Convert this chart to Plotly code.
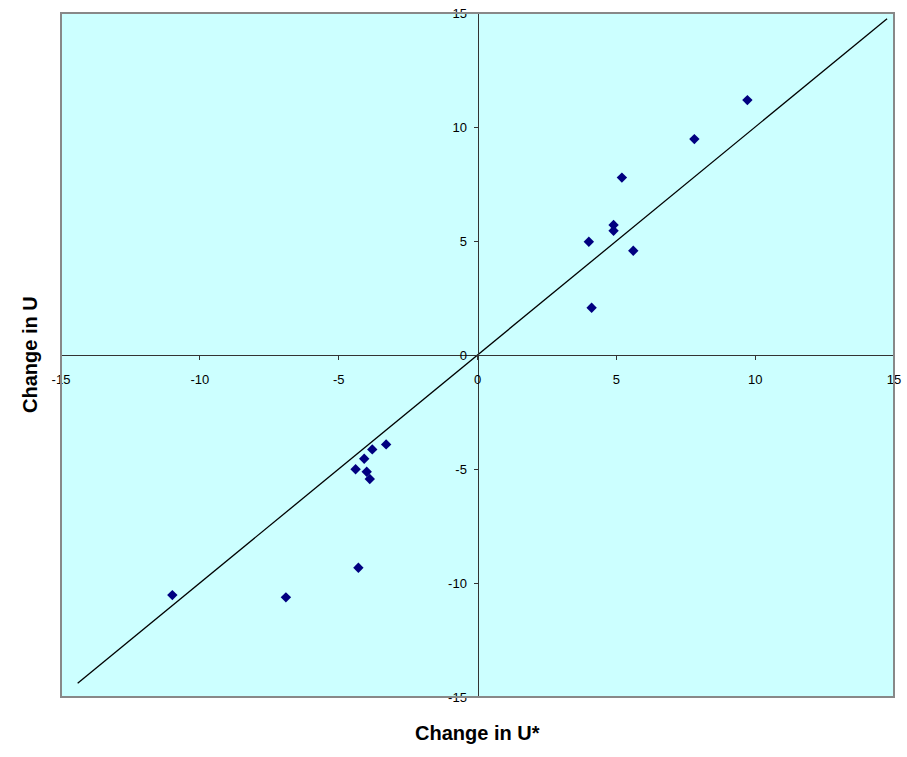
import plotly.graph_objects as go

# Data
change_u_star = [9.72, 7.81, 5.20, 4.90, 4.90, 4.01, 5.61, 4.11,
                 -10.99, -6.90, -4.29, -3.29, -3.79, -4.08, -4.39, -3.99, -3.88]
change_u = [11.18, 9.47, 7.78, 5.70, 5.45, 4.97, 4.57, 2.07,
            -10.53, -10.63, -9.33, -3.92, -4.14, -4.55, -5.01, -5.12, -5.44]
line_x = [-14.4, 14.75]
line_y = [-14.4, 14.75]
tick_vals = [-15, -10, -5, 0, 5, 10, 15]
tick_text = ["-15", "-10", "-5", "0", "5", "10", "15"]

fig = go.Figure()
fig.add_trace(go.Scatter(x=line_x, y=line_y, mode="lines",
                         line=dict(color="black", width=1.3), showlegend=False,
                         hoverinfo="skip"))
fig.add_trace(go.Scatter(x=change_u_star, y=change_u, mode="markers",
                         marker=dict(symbol="diamond", size=8, color="#000080"),
                         showlegend=False))

W, H = 907, 757
L, T, R, B = 61, 13, 13, 60
pw, ph = W - L - R, H - T - B
fnt = "Arial, Liberation Sans, sans-serif"

fig.update_layout(
    width=W, height=H,
    margin=dict(l=L, r=R, t=T, b=B, autoexpand=False),
    plot_bgcolor="#CCFFFF", paper_bgcolor="white",
    font=dict(family=fnt, size=13, color="black"),
    xaxis=dict(range=[-15, 15], tickvals=tick_vals, ticktext=tick_text, showgrid=False,
               zeroline=False, anchor="free", position=0.5, showline=True,
               linecolor="#333333", linewidth=1, ticks="outside", ticklen=4,
               tickcolor="#333333", tickfont=dict(size=13), automargin=False,
               ticklabelstandoff=8, ticklabeloverflow="allow"),
    yaxis=dict(range=[-15, 15], tickvals=tick_vals, ticktext=tick_text, showgrid=False,
               zeroline=False, anchor="free", position=0.5, showline=True,
               linecolor="#333333", linewidth=1, ticks="outside", ticklen=4,
               tickcolor="#333333", tickfont=dict(size=13), automargin=False,
               ticklabelstandoff=4, ticklabeloverflow="allow"),
    shapes=[dict(type="rect", xref="x domain", yref="y domain", x0=0, y0=0, x1=1, y1=1,
                 line=dict(color="#888888", width=2), layer="above")],
    annotations=[
        dict(text="<b>Change in U*</b>", xref="paper", yref="paper", x=0.5,
             y=(697 - 733) / ph, showarrow=False, font=dict(size=20, family=fnt),
             yanchor="middle", xanchor="center"),
        dict(text="<b>Change in U</b>", xref="paper", yref="paper",
             x=(30 - 61) / pw, y=0.5, showarrow=False, textangle=-90,
             font=dict(size=20, family=fnt), xanchor="center", yanchor="middle"),
    ],
)
fig.write_html("out.html", config={"displayModeBar": False},
               post_script="document.body.style.margin='0';document.body.style.overflow='hidden';")
